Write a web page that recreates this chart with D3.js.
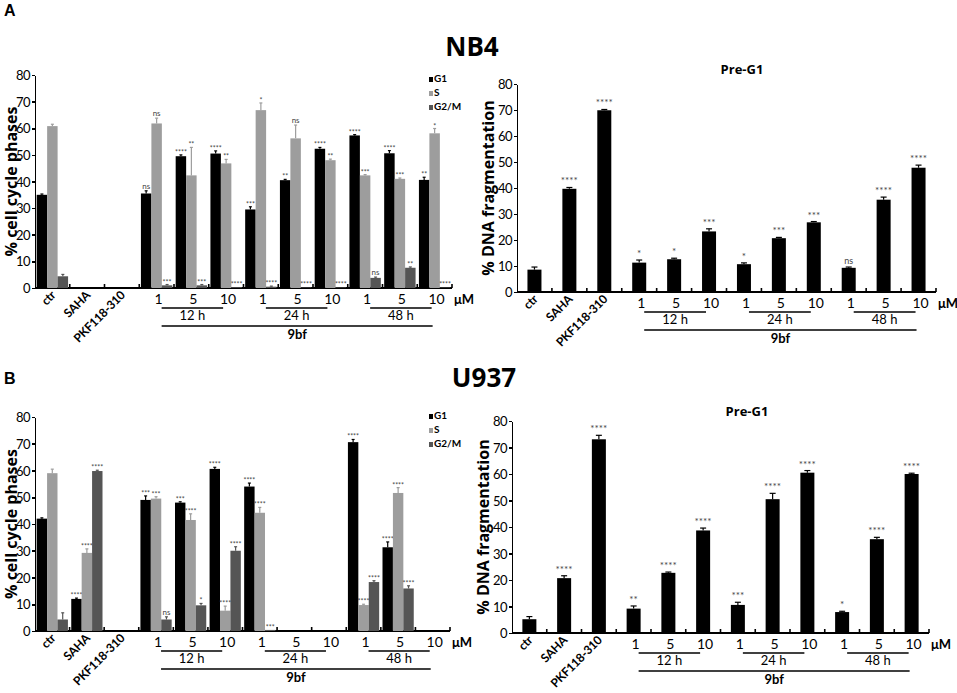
<!DOCTYPE html>
<html>
<head>
<meta charset="utf-8">
<script src="https://cdn.jsdelivr.net/npm/d3@7"></script>
<style>
  body { margin: 0; background: #fff; }
  svg { font-family: Lato, "Open Sans", sans-serif; }
  .axis path, .axis line { stroke: #000; stroke-width: 1.6px; shape-rendering: crispEdges; }
  .axis text { font-family: Lato, sans-serif; font-size: 13px; fill: #000; }
  .sig { fill: #444; text-anchor: middle; }
</style>
</head>
<body>
<div id="fig"></div>
<script>
// ---- groups and tick labels (shared by all four panels) ----
var groups = ["ctr", "SAHA", "PKF118-310", "12h-1", "12h-5", "12h-10", "24h-1", "24h-5", "24h-10", "48h-1", "48h-5", "48h-10"];
var rotLabels = ["ctr", "SAHA", "PKF118-310"];
var doseLabels = ["1", "5", "10", "1", "5", "10", "1", "5", "10"];
var timeLabels = ["12 h", "24 h", "48 h"];
var yTicks = [0, 10, 20, 30, 40, 50, 60, 70, 80];
var phases = ["G1", "S", "G2/M"];
var phaseColors = ["#000000", "#9d9d9d", "#555555"];

// ---- NB4 cell cycle ----
var nb4G1 = [35, null, null, 35.5, 49.5, 50.5, 29.5, 40.5, 52.3, 57.3, 50.6, 40.6];
var nb4S = [60.8, null, null, 61.8, 42.3, 46.8, 66.8, 56.2, 48, 42.3, 41, 58.1];
var nb4G2M = [4.4, null, null, 1, 1, 0.3, 0.5, 0.2, 0.2, 3.8, 7.6, 0.2];
var nb4G1Err = [0.3, 0, 0, 1, 0.5, 1, 1, 0.3, 0.5, 0.3, 1, 1];
var nb4SErr = [0.7, 0, 0, 2, 10.5, 1.5, 2.7, 5, 0.4, 0.3, 0.3, 1.8];
var nb4G2MErr = [0.7, 0, 0, 0.3, 0.3, 0, 0.2, 0, 0, 0.3, 0.3, 0];
var nb4G1Sig = ["", "", "", "ns", "****", "****", "***", "**", "****", "****", "****", "**"];
var nb4SSig = ["", "", "", "ns", "**", "**", "*", "ns", "**", "***", "***", "*"];
var nb4G2MSig = ["", "", "", "***", "***", "****", "****", "****", "****", "ns", "**", "****"];

// ---- NB4 Pre-G1 ----
var nb4Pre = [8.6, 39.7, 69.9, 11.3, 12.6, 23.3, 10.7, 20.7, 26.8, 9.3, 35.5, 47.8];
var nb4PreErr = [1, 0.5, 0.3, 1, 0.4, 1, 0.5, 0.3, 0.3, 0.3, 1, 1];
var nb4PreSig = ["", "****", "****", "*", "*", "***", "*", "***", "***", "ns", "****", "****"];

// ---- U937 cell cycle ----
var u937G1 = [42, 12, null, 49, 48, 60.6, 54, null, null, 70.6, 31.3, null];
var u937S = [59, 29.2, null, 49.5, 41.5, 7.6, 44.2, null, null, 9.7, 51.6, null];
var u937G2M = [4.3, 59.8, null, 4.3, 9.6, 30, 0.4, null, null, 18.3, 15.9, null];
var u937G1Err = [0.3, 0.3, 0, 1.5, 0.3, 0.6, 1.3, 0, 0, 1, 2, 0];
var u937SErr = [1.5, 1.5, 0, 0.7, 2.3, 1.7, 2, 0, 0, 0.3, 2, 0];
var u937G2MErr = [2.5, 0.3, 0, 1, 0.7, 1.5, 0, 0, 0, 0.5, 1, 0];
var u937G1Sig = ["", "****", "", "***", "***", "****", "****", "", "", "****", "****", ""];
var u937SSig = ["", "****", "", "***", "****", "****", "****", "", "", "****", "****", ""];
var u937G2MSig = ["", "****", "", "ns", "*", "****", "***", "", "", "****", "****", ""];

// ---- U937 Pre-G1 ----
var u937Pre = [5.2, 20.7, 73.1, 9.2, 22.7, 38.7, 10.6, 50.5, 60.5, 7.9, 35.4, 60];
var u937PreErr = [1, 0.9, 1.5, 1, 0.3, 0.9, 1, 2.2, 0.8, 0.3, 0.7, 0.3];
var u937PreSig = ["", "****", "****", "**", "****", "****", "***", "****", "****", "*", "****", "****"];

var W = 957, H = 693;
var svg = d3.select("#fig").append("svg").attr("width", W).attr("height", H);

function txt(x, y, s, size, weight, anchor) {
  return svg.append("text").attr("x", x).attr("y", y).text(s)
    .style("font-size", size + "px").style("font-weight", weight || "normal")
    .attr("text-anchor", anchor || "start");
}

// headings
txt(4, 16, "A", 16, "bold").style("font-family", "Liberation Sans, Arial, sans-serif");
txt(4, 384, "B", 16, "bold").style("font-family", "Liberation Sans, Arial, sans-serif");
txt(472, 56, "NB4", 26, "bold", "middle").style("font-family", "Open Sans, sans-serif");
txt(484, 387, "U937", 26, "bold", "middle").style("font-family", "Open Sans, sans-serif");

// common frame: axes, x labels, brackets
function frame(p) {
  var x = d3.scaleBand().domain(groups).range([p.x0, p.x1]).paddingInner(0).paddingOuter(0);
  var y = d3.scaleLinear().domain([0, 80]).range([p.y0, p.yTop]);
  var g = svg.append("g");

  g.append("g").attr("class", "axis")
    .attr("transform", "translate(" + p.x0 + ",0)")
    .call(d3.axisLeft(y).tickValues(yTicks).tickSize(3).tickPadding(2).tickSizeOuter(0))
    .call(function (a) { a.selectAll("text").attr("dy", "0.35em").style("letter-spacing", "-0.5px"); });

  var bounds = groups.map(function (d) { return x(d) + x.bandwidth(); });
  g.append("line").attr("x1", p.x0).attr("x2", p.x1).attr("y1", p.y0).attr("y2", p.y0)
    .attr("stroke", "#000").attr("stroke-width", 2);
  g.selectAll("line.xt").data(bounds).enter().append("line").attr("class", "xt")
    .attr("x1", function (d) { return d; }).attr("x2", function (d) { return d; })
    .attr("y1", p.y0).attr("y2", p.y0 - 4).attr("stroke", "#000").attr("stroke-width", 1.6);

  // rotated labels: outer g positions, inner text rotates
  var rl = g.selectAll("g.rot").data(rotLabels).enter().append("g").attr("class", "rot")
    .attr("transform", function (d, i) {
      return "translate(" + (x(groups[i]) + x.bandwidth() / 2 + 4) + "," + (p.y0 + 8) + ")";
    });
  rl.append("text").attr("transform", "rotate(-45)").attr("x", 0).attr("y", 0)
    .attr("text-anchor", "end").style("font-size", "12px").style("font-weight", "bold")
    .style("letter-spacing", "-0.2px")
    .text(function (d) { return d; });

  // dose labels
  g.selectAll("text.dose").data(doseLabels).enter().append("text").attr("class", "dose")
    .attr("x", function (d, i) { return x(groups[i + 3]) + x.bandwidth() / 2 + 2; })
    .attr("y", p.y0 + 16).attr("text-anchor", "middle").style("font-size", "14px").text(function (d) { return d; });
  txt(p.x1 + 2, p.y0 + 16, "μM", 13, "bold");

  // time brackets
  timeLabels.forEach(function (t, k) {
    var a = x(groups[3 + k * 3]) + x.bandwidth() / 2 + 5, b = x(groups[5 + k * 3]) + x.bandwidth() / 2 - 3;
    g.append("line").attr("x1", a).attr("x2", b).attr("y1", p.y0 + 20).attr("y2", p.y0 + 20)
      .attr("stroke", "#000").attr("stroke-width", 1.3);
    txt((a + b) / 2, p.y0 + 32, t, 13, "normal", "middle");
  });
  var a9 = x(groups[3]) + x.bandwidth() / 2 + 5, b9 = x(groups[11]) + x.bandwidth() / 2 - 2;
  g.append("line").attr("x1", a9).attr("x2", b9).attr("y1", p.y0 + 38).attr("y2", p.y0 + 38)
    .attr("stroke", "#000").attr("stroke-width", 1.3);
  txt((a9 + b9) / 2, p.y0 + 51, "9bf", 13, "bold", "middle");

  // y title
  svg.append("text").attr("transform", "translate(" + p.titleX + "," + ((p.y0 + p.yTop) / 2) + ") rotate(-90)")
    .attr("text-anchor", "middle").style("font-size", "16px").style("font-weight", "bold")
    .style("font-family", "Open Sans, sans-serif").text(p.ytitle);

  return { x: x, y: y };
}

function errBar(p, sc, cx, v, e, color, capW) {
  if (e <= 0) return;
  var yt = sc.y(v), ye = sc.y(v + e);
  svg.append("line").attr("x1", cx).attr("x2", cx).attr("y1", yt).attr("y2", ye).attr("stroke", color).attr("stroke-width", 1.2);
  svg.append("line").attr("x1", cx - capW / 2).attr("x2", cx + capW / 2).attr("y1", ye).attr("y2", ye).attr("stroke", color).attr("stroke-width", 1.2);
}

function drawCycle(p, series, errs, sigs) {
  var sc = frame(p);
  var inner = d3.scaleBand().domain(phases).range([0, sc.x.bandwidth()]).paddingOuter(0.16).paddingInner(0);
  series.forEach(function (vals, s) {
    vals.forEach(function (v, i) {
      if (v === null) return;
      var bx = sc.x(groups[i]) + inner(phases[s]);
      var bw = inner.bandwidth();
      svg.append("rect").attr("x", bx).attr("y", sc.y(v)).attr("width", bw).attr("height", sc.y(0) - sc.y(v))
        .attr("fill", phaseColors[s]);
      var col = s === 0 ? "#000" : phaseColors[s];
      errBar(p, sc, bx + bw / 2, v, errs[s][i], col, 3);
      if (sigs[s][i]) {
        svg.append("text").attr("class", "sig").attr("x", bx + bw / 2).attr("y", sc.y(v + errs[s][i]) - (sigs[s][i] === "ns" ? 2 : 0))
          .style("font-size", sigs[s][i] === "ns" ? "8px" : "7px").text(sigs[s][i]);
      }
    });
  });
  // legend
  phases.forEach(function (ph, s) {
    svg.append("rect").attr("x", p.legX).attr("y", p.legY + s * 14 - 5).attr("width", 4).attr("height", 5).attr("fill", phaseColors[s]);
    txt(p.legX + 5, p.legY + s * 14, ph, 10, "bold");
  });
}

function drawPre(p, vals, errs, sigs) {
  var sc = frame(p);
  var bw = 14;
  vals.forEach(function (v, i) {
    var cx = sc.x(groups[i]) + sc.x.bandwidth() / 2;
    svg.append("rect").attr("x", cx - bw / 2).attr("y", sc.y(v)).attr("width", bw).attr("height", sc.y(0) - sc.y(v)).attr("fill", "#000");
    errBar(p, sc, cx, v, errs[i], "#000", 6);
    if (sigs[i]) {
      svg.append("text").attr("class", "sig").attr("x", cx).attr("y", sc.y(v + errs[i]) - 3)
        .style("font-size", sigs[i] === "ns" ? "9px" : "10px").text(sigs[i]);
    }
  });
  txt(p.titleCx, p.titleCy, "Pre-G1", 13, "bold", "middle").style("font-family", "Open Sans, sans-serif");
}

drawCycle({ x0: 35, x1: 452, y0: 288, yTop: 75, titleX: 17, ytitle: "% cell cycle phases", legX: 429, legY: 82 },
  [nb4G1, nb4S, nb4G2M], [nb4G1Err, nb4SErr, nb4G2MErr], [nb4G1Sig, nb4SSig, nb4G2MSig]);
drawPre({ x0: 517, x1: 936, y0: 292, yTop: 84, titleX: 494, ytitle: "% DNA fragmentation", titleCx: 742, titleCy: 74 },
  nb4Pre, nb4PreErr, nb4PreSig);
drawCycle({ x0: 35, x1: 450, y0: 631, yTop: 417, titleX: 17, ytitle: "% cell cycle phases", legX: 429, legY: 419 },
  [u937G1, u937S, u937G2M], [u937G1Err, u937SErr, u937G2MErr], [u937G1Sig, u937SSig, u937G2MSig]);
drawPre({ x0: 512, x1: 929, y0: 633, yTop: 421, titleX: 489, ytitle: "% DNA fragmentation", titleCx: 747, titleCy: 416 },
  u937Pre, u937PreErr, u937PreSig);
</script>
</body>
</html>
